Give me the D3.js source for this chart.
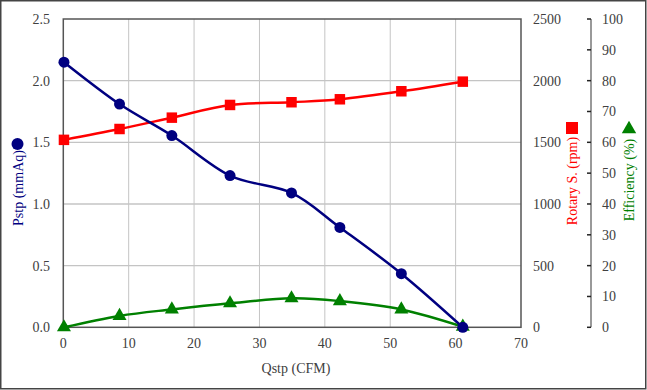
<!DOCTYPE html>
<html><head><meta charset="utf-8">
<script src="https://cdn.jsdelivr.net/npm/d3@7"></script>
<style>body{margin:0;background:#fff}svg{display:block}text{font-family:"Liberation Serif","DejaVu Serif",serif}</style>
</head><body>
<svg id="c" width="647" height="390"></svg>
<script>
const qstp = [0.1, 8.6, 16.6, 25.5, 34.9, 42.3, 51.7, 61.1];
const pstp = [2.15, 1.81, 1.555, 1.23, 1.09, 0.81, 0.435, 0.0];
const rpm = [1520, 1608, 1700, 1803, 1825, 1849, 1914, 1992];
const eff = [0.0, 3.7, 5.8, 7.8, 9.4, 8.5, 5.8, 0.2];
const xTicks = [0,10,20,30,40,50,60,70];
const pTicks = [0,0.5,1.0,1.5,2.0,2.5];
const rTicks = [0,500,1000,1500,2000,2500];
const eTicks = [0,10,20,30,40,50,60,70,80,90,100];

const svg = d3.select("#c");
const L=63.3, R=521, T=19, B=327.3;
const x = d3.scaleLinear().domain([0,70]).range([L,R]);
const yP = d3.scaleLinear().domain([0,2.5]).range([B,T]);
const yR = d3.scaleLinear().domain([0,2500]).range([B,T]);
const yE = d3.scaleLinear().domain([0,100]).range([B,T]);

svg.append("rect").attr("x",0.75).attr("y",0.75).attr("width",645).attr("height",388)
  .attr("fill","#fff").attr("stroke","#444").attr("stroke-width",1.5);

// grid
const g = svg.append("g");
g.selectAll(".vg").data(xTicks.slice(1,-1)).join("line")
  .attr("x1",d=>x(d)).attr("x2",d=>x(d)).attr("y1",T).attr("y2",B)
  .attr("stroke","#c4c4c4").attr("stroke-width",1);
g.selectAll(".hg").data(pTicks.slice(1,-1)).join("line")
  .attr("x1",L).attr("x2",R).attr("y1",d=>yP(d)).attr("y2",d=>yP(d))
  .attr("stroke","#c4c4c4").attr("stroke-width",1.3);

// plot frame
svg.append("rect").attr("x",L).attr("y",T).attr("width",R-L).attr("height",B-T)
  .attr("fill","none").attr("stroke","#555").attr("stroke-width",1.5);

const tcol="#404040";
// x labels
svg.selectAll(".xl").data(xTicks).join("text")
  .attr("x",d=>x(d)).attr("y",348).attr("text-anchor","middle")
  .attr("font-size",14).attr("fill",tcol).text(d=>d);
// left labels
svg.selectAll(".pl").data(pTicks).join("text")
  .attr("x",50).attr("y",d=>yP(d)+5).attr("text-anchor","end")
  .attr("font-size",14).attr("fill",tcol).text(d=>d.toFixed(1));
// rpm labels
svg.selectAll(".rl").data(rTicks).join("text")
  .attr("x",533).attr("y",d=>yR(d)+5).attr("text-anchor","start")
  .attr("font-size",14).attr("fill",tcol).text(d=>d);
// eff axis
const ex=591;
svg.append("line").attr("x1",ex).attr("x2",ex).attr("y1",yE(100)).attr("y2",yE(0))
  .attr("stroke","#777").attr("stroke-width",1.5);
svg.selectAll(".et").data(eTicks).join("line")
  .attr("x1",ex-4).attr("x2",ex).attr("y1",d=>yE(d)).attr("y2",d=>yE(d))
  .attr("stroke","#222").attr("stroke-width",1.5);
svg.selectAll(".el").data(eTicks).join("text")
  .attr("x",602).attr("y",d=>yE(d)+5).attr("text-anchor","start")
  .attr("font-size",14).attr("fill",tcol).text(d=>d);

// titles
svg.append("text").attr("x",296).attr("y",373).attr("text-anchor","middle")
  .attr("font-size",14).attr("fill",tcol).text("Qstp (CFM)");
svg.append("text").attr("transform","translate(23,188) rotate(-90)").attr("text-anchor","middle")
  .attr("font-size",14).attr("fill","#000080").text("Pstp (mmAq)");
svg.append("circle").attr("cx",17.5).attr("cy",144).attr("r",6).attr("fill","#000080");
svg.append("text").attr("transform","translate(577,181) rotate(-90)").attr("text-anchor","middle")
  .attr("font-size",14).attr("fill","#ff0000").text("Rotary S. (rpm)");
svg.append("rect").attr("x",566).attr("y",122).attr("width",12).attr("height",12).attr("fill","#ff0000");
svg.append("text").attr("transform","translate(634,180) rotate(-90)").attr("text-anchor","middle")
  .attr("font-size",14).attr("fill","#008000").text("Efficiency (%)");
svg.append("path").attr("d",d3.symbol(d3.symbolTriangle,90)()).attr("transform","translate(629,129)")
  .attr("fill","#008000");

// series
const curve = d3.curveCatmullRom.alpha(0);
function series(vals, yS, col, sym, size){
  const pts = qstp.map((q,i)=>[x(q), yS(vals[i])]);
  svg.append("path").attr("d",d3.line().curve(curve)(pts))
    .attr("fill","none").attr("stroke",col).attr("stroke-width",2.5);
  svg.selectAll(null).data(pts).join("path")
    .attr("transform",d=>`translate(${d[0]},${d[1]})`)
    .attr("d",d3.symbol(sym,size)()).attr("fill",col);
}
series(eff, yE, "#008000", d3.symbolTriangle, 85);
series(rpm, yR, "#ff0000", d3.symbolSquare, 110);
series(pstp, yP, "#000080", d3.symbolCircle, 95);
</script>
</body></html>
